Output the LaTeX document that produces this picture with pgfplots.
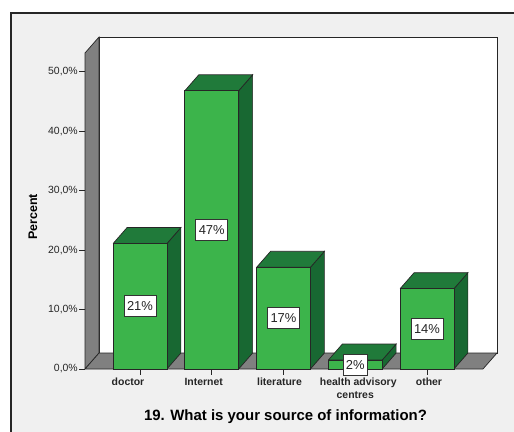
\documentclass[border=0pt]{standalone}
\usepackage{pgfplots}
\usepackage{pgfplotstable}
\pgfplotsset{compat=1.18}
\usepackage{fontspec}
\setmainfont{Liberation Sans}
\definecolor{barfront}{RGB}{60,180,75}
\definecolor{bartop}{RGB}{32,122,58}
\definecolor{barside}{RGB}{24,104,50}
\definecolor{wallgray}{RGB}{128,128,128}
\definecolor{bggray}{RGB}{240,240,240}

\pgfplotstableread{
x v lab
0 21.1 21
1 46.8 47
2 17.1 17
3 1.5 2
4 13.5 14
}\data

\def\bhw{0.375}
\def\bdx{0.195}
\def\bdy{2.69}

\begin{document}
\begin{tikzpicture}
\path[use as bounding box] (0,0) rectangle (514bp,-432bp);
\fill[white] (0,0) rectangle (514bp,-432bp);
\fill[bggray] (11bp,-13bp) rectangle (520bp,-440bp);
\draw[line width=2bp, black!85] (11bp,-440bp) -- (11bp,-13bp) -- (520bp,-13bp);
\begin{axis}[
  at={(85bp,-369bp)}, anchor=south west,
  scale only axis, width=412bp, height=332bp,
  xmin=-0.7666, xmax=4.976, ymin=0, ymax=55.84,
  clip=false,
  axis x line*=bottom, axis y line*=left,
  axis line style={draw=none},
  tick align=outside,
  major tick length=5.5bp,
  tick style={black!85, line width=0.8bp},
  xtick={0,1,2,3,4},
  xticklabels={\hspace*{-24bp}doctor, \hspace*{-16bp}Internet, \hspace*{-8bp}literature, {\hspace*{6bp}health advisory\\centres}, \hspace*{4bp}other},
  xticklabel style={font=\bfseries\fontsize{10.5}{12.5}\selectfont, align=center, text=black!85},
  ytick={0,10,20,30,40,50},
  yticklabels={{0,0\%},{10,0\%},{20,0\%},{30,0\%},{40,0\%},{50,0\%}},
  yticklabel style={font=\fontsize{10.5}{12}\selectfont, text=black!85, inner sep=1.5bp},
  xlabel={19. What is your source of information?},
  xlabel style={at={(rel axis cs:0.4867,-0.1566)}, anchor=base, font=\bfseries\fontsize{15}{18}\selectfont},
  ylabel={Percent},
  ylabel style={at={(rel axis cs:-0.1262,0.4578)}, anchor=center, font=\bfseries\fontsize{12.5}{15}\selectfont},
]
% back wall
\addplot[fill=white, draw=black!85, line width=0.7bp] coordinates {(-0.571,2.69) (4.976,2.69) (4.976,55.84) (-0.571,55.84) (-0.571,2.69)};
% left wall
\addplot[fill=wallgray, draw=black!85, line width=0.7bp] coordinates {(-0.7666,0) (-0.7666,53.15) (-0.571,55.84) (-0.571,2.69) (-0.7666,0)};
% floor
\addplot[fill=wallgray, draw=black!85, line width=0.7bp] coordinates {(-0.7666,0) (4.780,0) (4.976,2.69) (-0.571,2.69) (-0.7666,0)};
% side and top faces of bars
\pgfplotsinvokeforeach{0,...,4}{
  \pgfplotstablegetelem{#1}{v}\of\data
  \pgfmathsetmacro\V{\pgfplotsretval}
  \pgfmathsetmacro\XL{#1-\bhw}
  \pgfmathsetmacro\XR{#1+\bhw}
  \pgfmathsetmacro\XLB{#1-\bhw+\bdx}
  \pgfmathsetmacro\XRB{#1+\bhw+\bdx}
  \pgfmathsetmacro\VB{\V+\bdy}
  \edef\cmd{\noexpand\addplot[fill=barside, draw=black!85, line width=0.7bp] coordinates {(\XR,0) (\XR,\V) (\XRB,\VB) (\XRB,\bdy) (\XR,0)};
  \noexpand\addplot[fill=bartop, draw=black!85, line width=0.7bp] coordinates {(\XL,\V) (\XR,\V) (\XRB,\VB) (\XLB,\VB) (\XL,\V)};}
  \cmd
}
% front faces
\addplot[ybar, bar width=0.75, fill=barfront, draw=black!85, line width=0.7bp] table[x=x, y=v] {\data};
% value labels
\addplot[draw=none, mark=none, nodes near coords={\pgfplotspointmeta\%}, point meta=explicit symbolic,
  every node near coord/.append style={anchor=center, fill=white, draw=black!80, line width=0.6bp,
    font=\fontsize{13}{15}\selectfont, inner xsep=3bp, inner ysep=0bp, minimum height=21bp, text=black!85}]
  table[x=x, y expr=\thisrow{v}/2, meta=lab] {\data};
\end{axis}
\end{tikzpicture}
\end{document}
